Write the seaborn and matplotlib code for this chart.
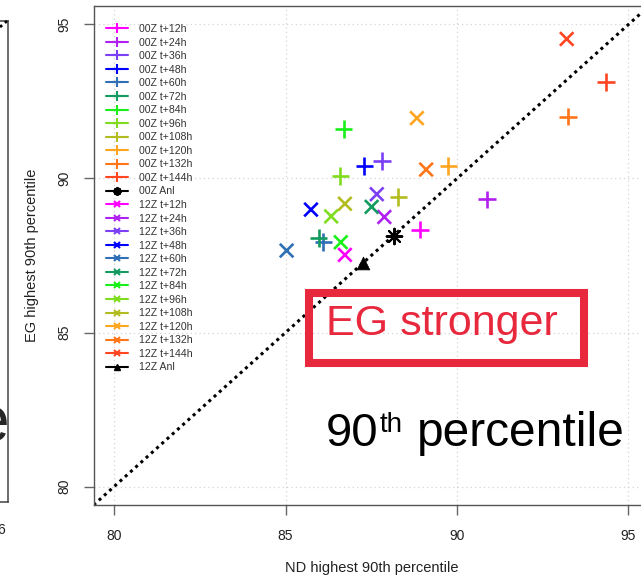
import numpy as np
import pandas as pd
import matplotlib
matplotlib.use("Agg")
import matplotlib.pyplot as plt
import seaborn as sns
from matplotlib.lines import Line2D
from matplotlib.patches import Rectangle

# ---------------- data ----------------
leads = ["t+12h", "t+24h", "t+36h", "t+48h", "t+60h", "t+72h",
         "t+84h", "t+96h", "t+108h", "t+120h", "t+132h", "t+144h"]
lead_colors = ["#FF00FF", "#B020F0", "#7B3FF5", "#0000FF", "#2F6FB5", "#139B5F",
               "#19F019", "#7FDC1F", "#B3BC1E", "#FFA520", "#FF7518", "#FF4522"]
nd_00z = [88.92, 90.87, 87.82, 87.30, 86.10, 85.96, 86.69, 86.60, 88.29, 89.75, 93.23, 94.34]
eg_00z = [88.34, 89.32, 90.57, 90.41, 87.93, 88.06, 91.60, 90.08, 89.40, 90.40, 92.01, 93.13]
nd_12z = [86.73, 87.88, 87.66, 85.74, 85.03, 87.51, 86.61, 86.33, 86.73, 88.83, 89.10, 93.20]
eg_12z = [87.52, 88.75, 89.49, 88.99, 87.66, 89.08, 87.93, 88.77, 89.18, 91.96, 90.29, 94.53]
anl_labels = ["00Z Anl", "12Z Anl"]
anl_nd = [88.17, 87.25]
anl_eg = [88.12, 87.26]
ticks = [80, 85, 90, 95]

# ---------------- style ----------------
sns.set_theme(style="white")
plt.rcParams["font.family"] = ["Liberation Sans", "DejaVu Sans"]

W, H = 641, 580
fig = plt.figure(figsize=(W / 100, H / 100), dpi=100)
ax = fig.add_axes([93.6 / W, 75 / H, (649 - 93.6) / W, 499 / H])

lims = (79.4, 95.6)
ax.set_xlim(lims)
ax.set_ylim(lims)

# grid
for v in ticks:
    ax.axvline(v, color="#d4d4d4", ls=(0, (1, 2.5)), lw=0.9, zorder=0)
    ax.axhline(v, color="#d4d4d4", ls=(0, (1, 2.5)), lw=0.9, zorder=0)

# 1:1 line
ax.plot(lims, lims, color="black", ls=(0, (1, 1.3)), lw=2.2, zorder=1)

df00 = pd.DataFrame({"nd": nd_00z, "eg": eg_00z, "lab": ["00Z " + l for l in leads]})
df12 = pd.DataFrame({"nd": nd_12z, "eg": eg_12z, "lab": ["12Z " + l for l in leads]})
pal00 = dict(zip(df00["lab"], lead_colors))
pal12 = dict(zip(df12["lab"], lead_colors))

sns.scatterplot(data=df00, x="nd", y="eg", hue="lab", palette=pal00, marker="+",
                s=160, linewidth=1.9, legend=False, ax=ax, zorder=3)
sns.scatterplot(data=df12, x="nd", y="eg", hue="lab", palette=pal12, marker="x",
                s=95, linewidth=1.9, legend=False, ax=ax, zorder=3)
sns.scatterplot(x=anl_nd[:1], y=anl_eg[:1], color="black", marker=(8, 2, 0),
                s=125, linewidth=1.5, legend=False, ax=ax, zorder=3)
sns.scatterplot(x=anl_nd[1:], y=anl_eg[1:], color="black", marker="^",
                s=85, edgecolor="black", linewidth=0.5, legend=False, ax=ax, zorder=3)

ax.set_xticks(ticks)
ax.set_yticks(ticks)
ax.set_xticklabels([str(t) for t in ticks])
ax.set_yticklabels([str(t) for t in ticks])
ax.tick_params(direction="out", length=7, width=1, color="#666", pad=10,
               labelsize=10, labelcolor="#222", bottom=True, left=True)
ax.tick_params(axis="y", labelrotation=90, pad=9)
for lab in ax.get_yticklabels():
    lab.set_va("center")
for s in ax.spines.values():
    s.set_color("#555")
    s.set_linewidth(1.0)

ax.set_xlabel("ND highest 90th percentile", fontsize=10.5, color="#222")
ax.set_ylabel("EG highest 90th percentile", fontsize=10.5, color="#222")
ax.xaxis.set_label_coords(0.5, -(568 - 505) / 499)
ax.xaxis.label.set_va("center")
ax.yaxis.set_label_coords((32 - 93.6) / (649 - 93.6), 0.5)
ax.yaxis.label.set_va("center")

# legend
handles, labels = [], []
for c, l in zip(lead_colors, leads):
    handles.append(Line2D([], [], color=c, marker="+", ms=7, mew=1.5, lw=1.5))
    labels.append("00Z " + l)
handles.append(Line2D([], [], color="black", marker=(8, 2, 0), ms=6, mew=1.6, lw=1.5))
labels.append(anl_labels[0])
for c, l in zip(lead_colors, leads):
    handles.append(Line2D([], [], color=c, marker="x", ms=5, mew=1.5, lw=1.5))
    labels.append("12Z " + l)
handles.append(Line2D([], [], color="black", marker="^", ms=5, lw=1.5))
labels.append(anl_labels[1])
leg = ax.legend(handles, labels, loc="upper left",
                bbox_to_anchor=(106 / W, 1 - 24 / H), bbox_transform=fig.transFigure,
                frameon=False, fontsize=7.6, handlelength=2.1, handletextpad=1.0,
                labelspacing=0.335, borderpad=0, borderaxespad=0)
for t in leg.get_texts():
    t.set_color("#333")

# annotation box and text
red = "#E8283C"
fig.add_artist(Rectangle((309 / W, 1 - 363 / H), (584 - 309) / W, (363 - 293) / H,
                         transform=fig.transFigure, fill=False, ec=red, lw=5.8,
                         joinstyle="miter"))
fig.text(326 / W, 1 - 335 / H, "EG stronger", color=red, fontsize=31,
         ha="left", va="baseline")

# "90th percentile" built from three pieces
renderer = fig.canvas.get_renderer()
t90 = fig.text(326 / W, 1 - 446 / H, "90", color="black", fontsize=34,
               ha="left", va="baseline")
bb = t90.get_window_extent(renderer)
tth = fig.text(bb.x1 / W + 1 / W, 1 - 412 / H, "th", color="black", fontsize=20,
               ha="left", va="top")
bb2 = tth.get_window_extent(renderer)
fig.text(bb2.x1 / W + 14 / W, 1 - 446 / H, "percentile", color="black", fontsize=34.5,
         ha="left", va="baseline")

# sliver of the neighbouring panel on the left edge
axl = fig.add_axes([-0.2, 1 - 502 / H, 0.2 + 8 / W, (502 - 21) / H])
axl.set_xticks([])
axl.set_yticks([])
axl.set_facecolor("none")
for k, s in axl.spines.items():
    s.set_color("#444")
    s.set_linewidth(1.1)
axl.spines["left"].set_visible(False)
fig.add_artist(Line2D([0, 7 / W], [1 - 27 / H, 1 - 21 / H], color="black",
                      ls=(0, (1, 1.3)), lw=2.0))
fig.text(9 / W, 1 - 442 / H, "e", fontsize=46, ha="right", va="baseline")
fig.text(5 / W, 1 - 530 / H, "6", fontsize=10, ha="right", va="center", color="#222")

fig.savefig("out.png", dpi=100)
